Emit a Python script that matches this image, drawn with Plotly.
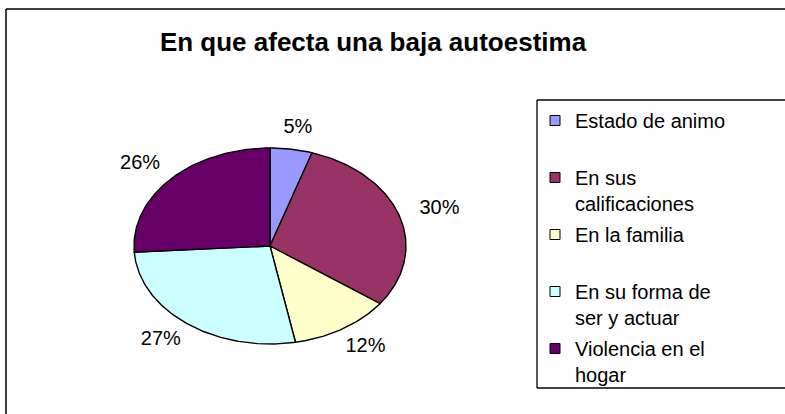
import numpy as np
import plotly.graph_objects as go

# ---- data ----
categories = ["Estado de animo", "En sus calificaciones", "En la familia",
              "En su forma de ser y actuar", "Violencia en el hogar"]
legend_labels = ["Estado de animo<br> ", "En sus<br>calificaciones", "En la familia<br> ",
                 "En su forma de<br>ser y actuar", "Violencia en el<br>hogar"]
values = [5, 30, 12, 27, 26]
colors = ["#9999FF", "#993366", "#FFFFCC", "#CCFFFF", "#660066"]
title_text = "En que afecta una baja autoestima"

W, H = 785, 414
FONT = "Liberation Sans, Arial, sans-serif"

total = float(sum(values))
fracs = np.array(values, dtype=float) / total
ends = np.cumsum(fracs) * 2 * np.pi
starts = ends - fracs * 2 * np.pi
mids = (starts + ends) / 2

fig = go.Figure()

# pie slices (clockwise from 12 o'clock), drawn on unit-circle axes scaled into an ellipse
for i, cat in enumerate(categories):
    n = max(int(fracs[i] * 360), 2) + 1
    t = np.linspace(starts[i], ends[i], n)
    xs = np.concatenate([[0.0], np.sin(t), [0.0]])
    ys = np.concatenate([[0.0], np.cos(t), [0.0]])
    fig.add_trace(go.Scatter(
        x=xs, y=ys, mode="lines", fill="toself", fillcolor=colors[i],
        line=dict(color="black", width=1.4), showlegend=False,
        hoverinfo="text", text=f"{cat}: {values[i]/total:.0%}",
    ))

# data labels outside the slices
fig.add_trace(go.Scatter(
    x=1.31 * np.sin(mids), y=1.22 * np.cos(mids), mode="text",
    text=[f"{v/total:.0%}" for v in values],
    textfont=dict(family=FONT, size=20, color="black"),
    textposition="middle center", cliponaxis=False, showlegend=False, hoverinfo="skip",
))

# legend entries
for i, lab in enumerate(legend_labels):
    fig.add_trace(go.Scatter(
        x=[None], y=[None], mode="markers", name=lab, legendgroup=f"g{i}",
        marker=dict(symbol="square", size=10, color=colors[i], line=dict(color="black", width=1)),
    ))

R = 1.6
cx, cy, rx, ry = 270, 246, 136, 98

# frame lines (the right / bottom edges fall outside the visible canvas)
ox, oy = 6 / W, 1 - 9 / H
lx0, ly0, ly1 = 537 / W, 1 - 388 / H, 1 - 100 / H
line_k = dict(color="black", width=1.3)
frame_shapes = [
    dict(type="line", xref="paper", yref="paper", x0=ox, x1=1.0, y0=oy, y1=oy,
         line=dict(color="black", width=1.5)),
    dict(type="line", xref="paper", yref="paper", x0=ox, x1=ox, y0=0.0, y1=oy,
         line=dict(color="black", width=1.5)),
    dict(type="line", xref="paper", yref="paper", x0=lx0, x1=1.0, y0=ly1, y1=ly1, line=line_k),
    dict(type="line", xref="paper", yref="paper", x0=lx0, x1=1.0, y0=ly0, y1=ly0, line=line_k),
    dict(type="line", xref="paper", yref="paper", x0=lx0, x1=lx0, y0=ly0, y1=ly1, line=line_k),
]

fig.update_layout(
    width=W, height=H,
    margin=dict(l=0, r=0, t=0, b=0),
    paper_bgcolor="white", plot_bgcolor="rgba(0,0,0,0)",
    xaxis=dict(domain=[(cx - R * rx) / W, (cx + R * rx) / W], range=[-R, R],
               visible=False, fixedrange=True),
    yaxis=dict(domain=[1 - (cy + R * ry) / H, 1 - (cy - R * ry) / H], range=[-R, R],
               visible=False, fixedrange=True),
    title=dict(text=f"<b>{title_text}</b>", x=373 / W, xanchor="center",
               y=1 - 42 / H, yanchor="middle",
               font=dict(family=FONT, size=26, color="black")),
    legend=dict(x=535 / W, xanchor="left", y=1 - 101 / H, yanchor="top",
                font=dict(family=FONT, size=20, color="black"),
                traceorder="grouped", tracegroupgap=2, valign="top",
                bgcolor="rgba(0,0,0,0)", borderwidth=0),
    shapes=frame_shapes,
    showlegend=True,
)

fig.write_html("out.html", config={"displayModeBar": False},
               post_script="document.body.style.margin='0';")
